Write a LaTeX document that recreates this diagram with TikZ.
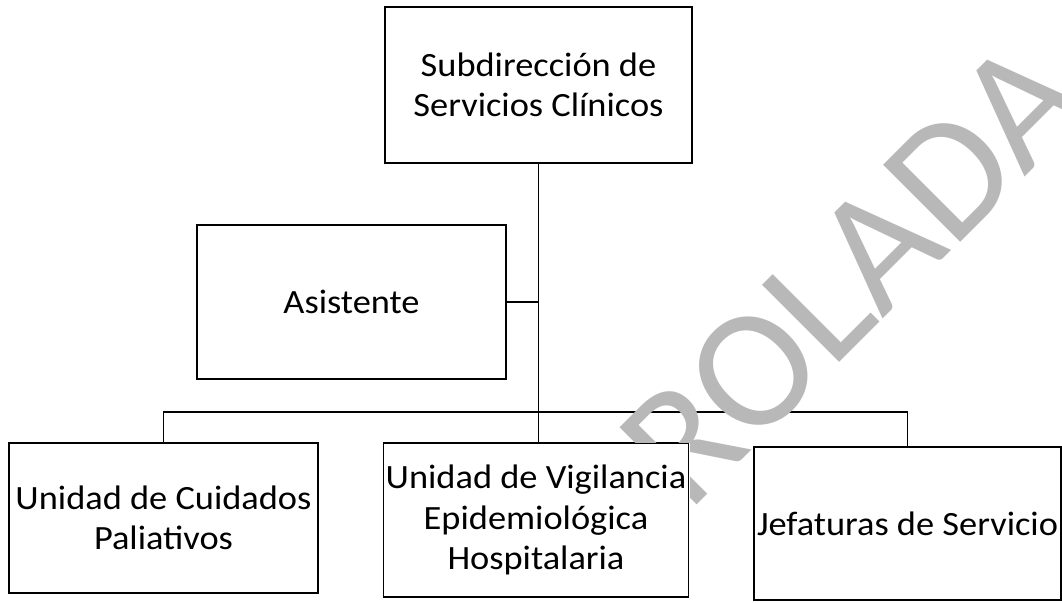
\documentclass[tikz,border=0pt]{standalone}
\usepackage{fontspec}
\setmainfont{Carlito}[FakeStretch=1.07]
\newfontfamily\wmfont{Carlito}
\begin{document}
\begin{tikzpicture}[x=1pt,y=1pt,
  box/.style={draw, line width=1.6pt, fill=white, inner sep=0pt, align=center,
    font=\fontsize{34}{40.5}\selectfont},
  link/.style={draw, line width=1.5pt},
  wm/.style={inner sep=0pt, text=black!28, font=\wmfont\fontsize{170}{180}\selectfont}]
\useasboundingbox (0,0) rectangle (1062,602);
\fill[white] (0,0) rectangle (1062,602);
% boxes
\node[box, minimum width=307pt, minimum height=156pt] (sub) at (538.5,517) {Subdirección de\\Servicios Clínicos};
\node[box, minimum width=309pt, minimum height=154pt] (asis) at (351.5,300) {Asistente};
\coordinate (bar) at (538,190);
\node[box, minimum width=309pt, minimum height=150pt] (cuid) at (163.5,84) {Unidad de Cuidados\\Paliativos};
\node[box, minimum width=305pt, minimum height=154pt] (vig) at (536,82) {Unidad de Vigilancia\\Epidemiológica\\Hospitalaria};
\node[box, minimum width=307pt, minimum height=153pt] (jef) at (907.5,78.5) {Jefaturas de Servicio};
% connectors
\draw[link] (sub.south) -- (sub.south |- vig.north);
\draw[link] (asis.east) -- (asis.east -| sub.south);
\draw[link] (cuid.north) |- (bar) -| (jef.north);
% watermark, hidden behind the boxes
\begin{scope}[even odd rule]
  \clip (0,0) rectangle (1062,602)
    (sub.south east) rectangle (sub.north west)
    (asis.south east) rectangle (asis.north west)
    (cuid.south east) rectangle (cuid.north west)
    (vig.south east) rectangle (vig.north west)
    (jef.south east) rectangle (jef.north west);
  \node[wm, rotate=45, anchor=base west] (wmark) at (688,88) {ROLADA};
\end{scope}
\end{tikzpicture}
\end{document}
